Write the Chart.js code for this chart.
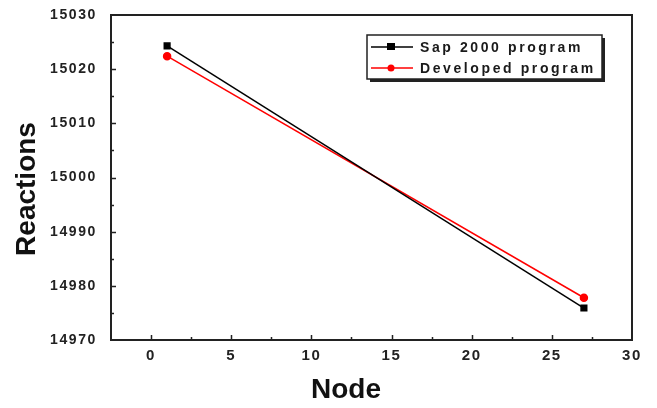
<!DOCTYPE html>
<html><head><meta charset="utf-8">
<script src="https://cdn.jsdelivr.net/npm/chart.js@4/dist/chart.umd.min.js"></script>
<style>html,body{margin:0;padding:0;background:#fff;}#wrap{width:657px;height:408px;}</style>
</head><body><div id="wrap"><canvas id="c" width="657" height="408"></canvas></div>
<script>
const nodes = [1, 27];
const sapValues = [15024.3, 14975.9];
const devValues = [15022.4, 14977.8];
const seriesNames = ['Sap 2000 program', 'Developed program'];
const xTicks = [0, 5, 10, 15, 20, 25, 30];
const xMinorTicks = [2.5, 7.5, 12.5, 17.5, 22.5, 27.5];
const yTicks = [14970, 14980, 14990, 15000, 15010, 15020, 15030];
const yMinorTicks = [14975, 14985, 14995, 15005, 15015, 15025];
const xTitle = 'Node';
const yTitle = 'Reactions';

const toPts = (xs, ys) => xs.map((x, i) => ({x, y: ys[i]}));

const spacing = {
  id: 'spacing',
  beforeDraw(chart) { try { chart.ctx.letterSpacing = '1.6px'; } catch (e) {} },
  beforeDatasetsDraw(chart) { try { chart.ctx.letterSpacing = '0px'; } catch (e) {} }
};

const decor = {
  id: 'decor',
  afterDatasetsDraw(chart) {
    const ctx = chart.ctx, a = chart.chartArea;
    const xs = chart.scales.x, ys = chart.scales.y;
    ctx.save();
    ctx.strokeStyle = '#222';
    ctx.lineWidth = 1.5;
    ctx.beginPath();
    xTicks.forEach(v => { const p = Math.round(xs.getPixelForValue(v)) + 0.5; if (p > a.left + 2 && p < a.right - 2) { ctx.moveTo(p, a.bottom); ctx.lineTo(p, a.bottom - 5); } });
    xMinorTicks.forEach(v => { const p = Math.round(xs.getPixelForValue(v)) + 0.5; ctx.moveTo(p, a.bottom); ctx.lineTo(p, a.bottom - 3); });
    yTicks.forEach(v => { const p = Math.round(ys.getPixelForValue(v)) + 0.5; if (p > a.top + 2 && p < a.bottom - 2) { ctx.moveTo(a.left, p); ctx.lineTo(a.left + 5, p); } });
    yMinorTicks.forEach(v => { const p = Math.round(ys.getPixelForValue(v)) + 0.5; ctx.moveTo(a.left, p); ctx.lineTo(a.left + 3, p); });
    ctx.stroke();
    ctx.lineWidth = 2;
    ctx.strokeStyle = '#222';
    ctx.strokeRect(a.left, a.top, a.right - a.left, a.bottom - a.top);

    ctx.fillStyle = '#111';
    ctx.font = 'bold 28px "Liberation Sans", Arial, sans-serif';
    ctx.textAlign = 'center';
    ctx.textBaseline = 'middle';
    ctx.fillText(xTitle, 346, 390);
    ctx.save();
    ctx.translate(27, 189);
    ctx.rotate(-Math.PI / 2);
    ctx.fillText(yTitle, 0, 0);
    ctx.restore();

    const lx = 367, ly = 35, lw = 235, lh = 44;
    ctx.fillStyle = '#222';
    ctx.fillRect(lx + 3, ly + 3, lw, lh);
    ctx.fillStyle = '#fff';
    ctx.fillRect(lx, ly, lw, lh);
    ctx.lineWidth = 1.5;
    ctx.strokeStyle = '#222';
    ctx.strokeRect(lx, ly, lw, lh);
    chart.data.datasets.forEach((ds, i) => {
      const yy = ly + 12 + i * 21;
      ctx.strokeStyle = ds.borderColor;
      ctx.lineWidth = 1.5;
      ctx.beginPath(); ctx.moveTo(lx + 4, yy); ctx.lineTo(lx + 46, yy); ctx.stroke();
      ctx.fillStyle = ds.pointBackgroundColor;
      if (ds.pointStyle === 'rect') { ctx.fillRect(lx + 20, yy - 4, 8, 7); }
      else { ctx.beginPath(); ctx.arc(lx + 24, yy, 3.5, 0, Math.PI * 2); ctx.fill(); }
      ctx.fillStyle = '#1a1a1a';
      ctx.font = 'bold 14px "Liberation Sans", Arial, sans-serif';
      ctx.textAlign = 'left';
      ctx.textBaseline = 'middle';
      try { ctx.letterSpacing = '2.6px'; } catch (e) {}
      ctx.fillText(ds.label, lx + 53, yy + 1);
      try { ctx.letterSpacing = '0px'; } catch (e) {}
    });
    ctx.restore();
  }
};

new Chart(document.getElementById('c'), {
  type: 'scatter',
  data: {
    datasets: [
      { label: seriesNames[0], data: toPts(nodes, sapValues), showLine: true,
        borderColor: '#000', backgroundColor: '#000', pointBackgroundColor: '#000', pointBorderColor: '#000',
        borderWidth: 1.5, pointStyle: 'rect', pointRadius: 4 },
      { label: seriesNames[1], data: toPts(nodes, devValues), showLine: true,
        borderColor: '#ff0000', backgroundColor: '#ff0000', pointBackgroundColor: '#ff0000', pointBorderColor: '#ff0000',
        borderWidth: 1.5, pointStyle: 'circle', pointRadius: 3.5 }
    ]
  },
  options: {
    responsive: false,
    animation: false,
    events: [],
    layout: { padding: { top: 15, right: 25, left: 0, bottom: 0 } },
    plugins: { legend: { display: false }, tooltip: { enabled: false } },
    scales: {
      x: {
        type: 'linear', min: -2.5, max: 30,
        afterBuildTicks: s => { s.ticks = xTicks.map(v => ({value: v})); },
        afterFit: s => { s.height = 68; s.paddingLeft = 0; s.paddingRight = 0; },
        grid: { display: false, drawTicks: false },
        border: { display: false },
        ticks: { padding: 7, color: '#222', font: { family: '"Liberation Sans", Arial, sans-serif', size: 15, weight: 'bold' }, maxRotation: 0 }
      },
      y: {
        type: 'linear', min: 14970, max: 15030,
        afterBuildTicks: s => { s.ticks = yTicks.map(v => ({value: v})); },
        afterFit: s => { s.width = 111; s.paddingTop = 0; s.paddingBottom = 0; },
        grid: { display: false, drawTicks: false },
        border: { display: false },
        ticks: { padding: 14, color: '#222', font: { family: '"Liberation Sans", Arial, sans-serif', size: 14, weight: 'bold' }, callback: v => String(v) }
      }
    }
  },
  plugins: [spacing, decor]
});
</script></body></html>
